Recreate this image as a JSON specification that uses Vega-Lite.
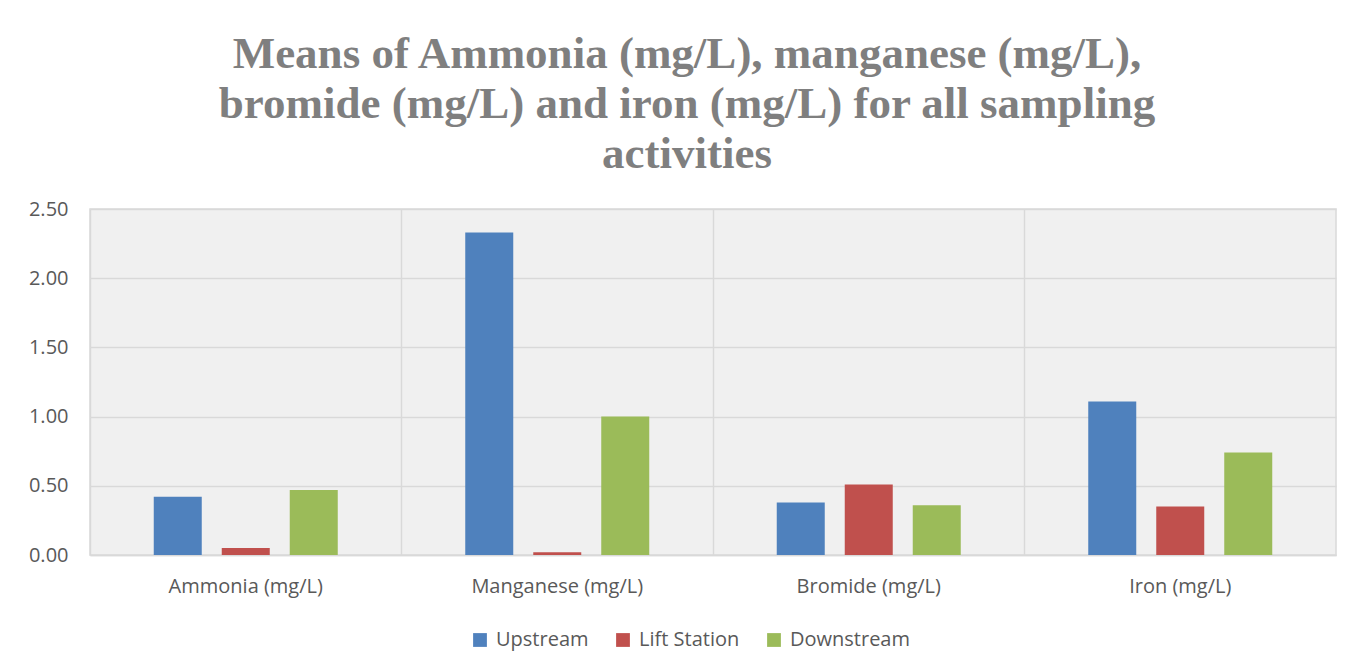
{
  "$schema": "https://vega.github.io/schema/vega-lite/v6.json",
  "width": 1246,
  "height": 346,
  "autosize": {"type": "none"},
  "padding": {"left": 90, "top": 209, "right": 18, "bottom": 115},
  "background": "white",
  "title": {
    "text": ["Means of Ammonia (mg/L), manganese (mg/L),", "bromide (mg/L) and iron (mg/L) for all sampling", "activities"],
    "font": "Liberation Serif",
    "fontSize": 45,
    "fontWeight": "bold",
    "color": "#7f7f7f",
    "lineHeight": 50,
    "anchor": "middle",
    "dx": -26,
    "offset": 22
  },
  "data": {
    "values": [
      {"parameter": "Ammonia (mg/L)", "site": "Upstream", "mean": 0.42},
      {"parameter": "Ammonia (mg/L)", "site": "Lift Station", "mean": 0.05},
      {"parameter": "Ammonia (mg/L)", "site": "Downstream", "mean": 0.47},
      {"parameter": "Manganese (mg/L)", "site": "Upstream", "mean": 2.33},
      {"parameter": "Manganese (mg/L)", "site": "Lift Station", "mean": 0.02},
      {"parameter": "Manganese (mg/L)", "site": "Downstream", "mean": 1.0},
      {"parameter": "Bromide (mg/L)", "site": "Upstream", "mean": 0.38},
      {"parameter": "Bromide (mg/L)", "site": "Lift Station", "mean": 0.51},
      {"parameter": "Bromide (mg/L)", "site": "Downstream", "mean": 0.36},
      {"parameter": "Iron (mg/L)", "site": "Upstream", "mean": 1.11},
      {"parameter": "Iron (mg/L)", "site": "Lift Station", "mean": 0.35},
      {"parameter": "Iron (mg/L)", "site": "Downstream", "mean": 0.74}
    ]
  },
  "mark": {"type": "bar"},
  "encoding": {
    "x": {
      "field": "parameter",
      "type": "nominal",
      "sort": ["Ammonia (mg/L)", "Manganese (mg/L)", "Bromide (mg/L)", "Iron (mg/L)"],
      "scale": {"paddingInner": 0, "paddingOuter": 0},
      "axis": {
        "title": null,
        "labelAngle": 0,
        "labelFont": "Open Sans",
        "labelFontSize": 20,
        "labelColor": "#595959",
        "labelPadding": 21,
        "ticks": false,
        "domainColor": "#d9d9d9",
        "domainWidth": 1.5,
        "grid": true,
        "gridColor": "#d9d9d9",
        "gridWidth": 1.5,
        "bandPosition": 0
      }
    },
    "xOffset": {
      "field": "site",
      "type": "nominal",
      "sort": ["Upstream", "Lift Station", "Downstream"],
      "scale": {"paddingInner": 0.294, "paddingOuter": 0.9375}
    },
    "y": {
      "field": "mean",
      "type": "quantitative",
      "scale": {"domain": [0, 2.5]},
      "axis": {
        "title": null,
        "values": [0, 0.5, 1, 1.5, 2, 2.5],
        "labelOverlap": false,
        "format": ".2f",
        "labelFont": "Open Sans",
        "labelFontSize": 20,
        "labelColor": "#595959",
        "labelPadding": 22,
        "ticks": false,
        "domain": false,
        "gridColor": "#d9d9d9",
        "gridWidth": 1.5
      }
    },
    "color": {
      "field": "site",
      "type": "nominal",
      "sort": ["Upstream", "Lift Station", "Downstream"],
      "scale": {"domain": ["Upstream", "Lift Station", "Downstream"], "range": ["#4f81bd", "#c0504d", "#9bbb59"]},
      "legend": {
        "title": null,
        "orient": "none",
        "legendX": 380,
        "legendY": 421,
        "direction": "horizontal",
        "symbolType": "square",
        "symbolSize": 190,
        "symbolStrokeWidth": 0,
        "labelFont": "Open Sans",
        "labelFontSize": 20,
        "labelColor": "#595959",
        "labelOffset": 6,
        "columnPadding": 24
      }
    }
  },
  "config": {
    "view": {"fill": "#f0f0f0", "stroke": "#d9d9d9", "strokeWidth": 1.5}
  }
}
